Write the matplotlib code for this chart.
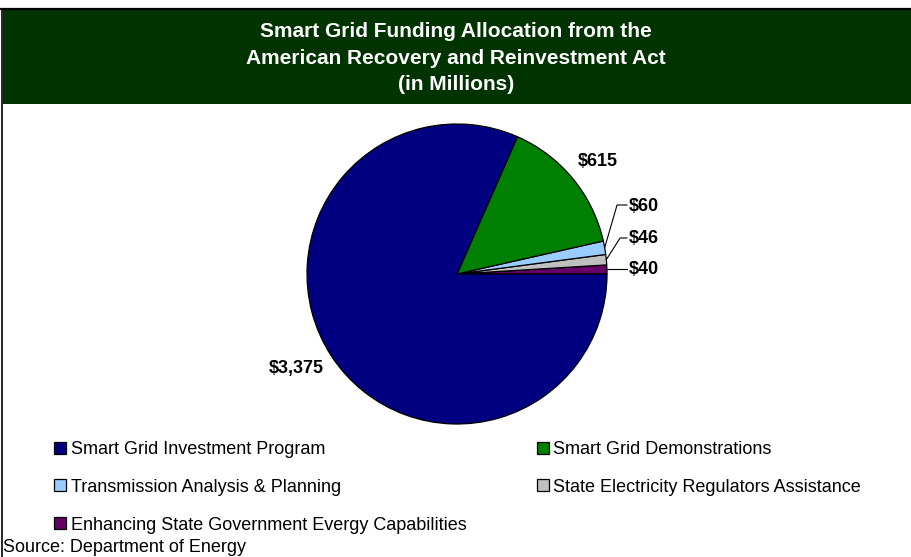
import numpy as np
import matplotlib.pyplot as plt
from matplotlib.patches import Rectangle
from matplotlib.lines import Line2D

plt.rcParams['font.family'] = ['Liberation Sans', 'DejaVu Sans']

# data
categories = ['Smart Grid Investment Program', 'Smart Grid Demonstrations',
              'Transmission Analysis & Planning',
              'State Electricity Regulators Assistance',
              'Enhancing State Government Evergy Capabilities']
values = [3375, 615, 60, 46, 40]
colors = ['#000080', '#008000', '#99CCFF', '#C0C0C0', '#660066']
value_labels = ['$3,375', '$615', '$60', '$46', '$40']

W, H = 912, 557
fig = plt.figure(figsize=(W / 100, H / 100), dpi=100)

# header band + frame
fig.patches.append(Rectangle((3 / W, 1 - 104 / H), 1, 95 / H, transform=fig.transFigure,
                             facecolor='#003300', edgecolor='none', zorder=0))
fig.add_artist(Line2D([0, 1], [1 - 9 / H, 1 - 9 / H], transform=fig.transFigure,
                      color='black', lw=1.6))
fig.add_artist(Line2D([2.5 / W, 2.5 / W], [0, 1 - 9 / H], transform=fig.transFigure,
                      color='black', lw=1.2))

fig.text(0.5, 1 - 58 / H,
         'Smart Grid Funding Allocation from the\nAmerican Recovery and Reinvestment Act\n(in Millions)',
         ha='center', va='center', color='white', fontsize=15, fontweight='bold',
         linespacing=1.5)

# pie
cx, cy, R = 457, 274, 150
span = 200
ax = fig.add_axes([(cx - span) / W, (H - cy - span) / H, 2 * span / W, 2 * span / H])

order = [4, 3, 2, 1, 0]  # counter-clockwise from 3 o'clock
wedges, _ = ax.pie([values[i] for i in order], colors=[colors[i] for i in order],
                   startangle=0, counterclock=True, radius=1,
                   wedgeprops=dict(edgecolor='black', linewidth=0.9))
ax.set_xlim(-span / R, span / R)
ax.set_ylim(-span / R, span / R)
ax.set_aspect('auto')
ax.axis('off')

mids = {}
for i, w in zip(order, wedges):
    mids[i] = np.deg2rad((w.theta1 + w.theta2) / 2)

lab_kw = dict(fontsize=13, fontweight='bold', color='black', va='center')
ax.text(-1.07, -0.633, value_labels[0], ha='center', **lab_kw)
ax.text(0.937, 0.749, value_labels[1], ha='center', **lab_kw)

# small slices with leader lines
elbows = {2: (1.067, 0.46), 3: (1.087, 0.24), 4: None}
label_y = {2: 0.449, 3: 0.238, 4: None}
for i in [2, 3, 4]:
    a = mids[i]
    px, py = np.cos(a), np.sin(a)
    if elbows[i] is None:
        ax.plot([px, 1.133], [py, py], color='black', lw=0.8)
        ty = py
    else:
        ex, ey = elbows[i]
        ax.plot([px, ex, 1.133], [py, ey, ey], color='black', lw=0.8)
        ty = label_y[i]
    ax.text(1.147, ty, value_labels[i], ha='left', **lab_kw)

# legend (row-wise order)
handles = [Line2D([], [], marker='s', linestyle='none', markersize=8.8,
                  markerfacecolor=colors[i], markeredgecolor='black', markeredgewidth=0.9)
           for i in range(len(categories))]
leg_order = [0, 2, 4, 1, 3]
fig.legend([handles[i] for i in leg_order], [categories[i] for i in leg_order],
           ncol=2, loc='upper left', bbox_to_anchor=(54 / W, 1 - 441 / H),
           frameon=False, fontsize=13, handlelength=0.7, handletextpad=0.22,
           columnspacing=3.9, labelspacing=1.15, borderpad=0, borderaxespad=0)

fig.text(3 / W, 1 - 547 / H, 'Source: Department of Energy', ha='left', va='center',
         fontsize=13)

fig.savefig('out.png', dpi=100)
